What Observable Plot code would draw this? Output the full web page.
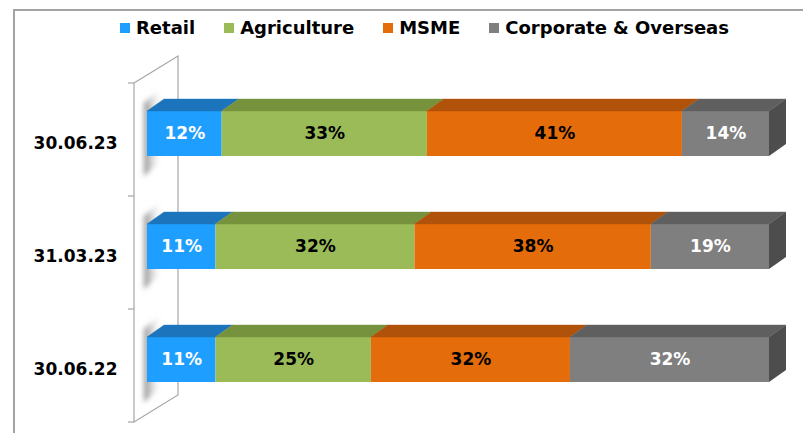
<!DOCTYPE html>
<html><head><meta charset="utf-8">
<script src="https://cdn.jsdelivr.net/npm/d3@7"></script>
<script src="https://cdn.jsdelivr.net/npm/@observablehq/plot@0.6"></script>
<style>
html,body{margin:0;padding:0;background:#fff;overflow:hidden;width:803px;height:433px}
#frame{position:absolute;left:13px;top:9px;width:900px;height:600px;border-top:2px solid #a3a3a3;border-left:2px solid #a3a3a3}
#legend{position:absolute;top:17px;left:120px;display:flex;align-items:center;font:bold 18px "DejaVu Sans";color:#000;white-space:nowrap}
.item{display:flex;align-items:center;margin-right:29px}
.sw{width:10px;height:10px;margin-right:6px}
#chart{position:absolute;left:0;top:45px}
</style></head><body>
<div id="frame"></div><div id="legend"></div><div id="chart"></div>
<script>
const dates = ["30.06.23", "31.03.23", "30.06.22"];
const segments = ["Retail", "Agriculture", "MSME", "Corporate & Overseas"];
const retail = [12, 11, 11];
const agriculture = [33, 32, 25];
const msme = [41, 38, 32];
const corporate = [14, 19, 32];

const frontColors = ["#1e9eff", "#9bbb59", "#e46c0a", "#7f7f7f"];
const topColors = ["#1c75bc", "#77923c", "#b05209", "#5f5f5f"];
const labelColors = ["#ffffff", "#000000", "#000000", "#ffffff"];
const sideColor = "#4d4d4d";
const DX = 17, DY = 12;

const seriesValues = [retail, agriculture, msme, corporate];
const rows = [];
dates.forEach((date, i) => {
  let acc = 0;
  seriesValues.forEach((vals, k) => {
    const v = vals[i];
    rows.push({date, cat: segments[k], k, value: v, x1: acc, x2: acc + v, mid: acc + v / 2, last: k === segments.length - 1});
    acc += v;
  });
});

// legend
const legend = document.getElementById("legend");
segments.forEach((s, k) => {
  const it = document.createElement("div"); it.className = "item";
  const sw = document.createElement("span"); sw.className = "sw"; sw.style.background = frontColors[k];
  const tx = document.createElement("span"); tx.textContent = s;
  it.append(sw, tx); legend.append(it);
});

function bandInfo(y) {
  const bw = typeof y.bandwidth === "function" ? y.bandwidth() : y.bandwidth;
  const st = typeof y.step === "function" ? y.step() : y.step;
  return {bw, st};
}

function wallMark(index, scales) {
  const {x, y} = scales;
  const g = d3.create("svg:g");
  const {bw, st} = bandInfo(y);
  const x0 = x(0);
  const xL = x0 - 13, xB = x0 + 31, rise = 27;
  const yT = y(dates[0]) - 28, yBot = yT + st * dates.length;
  const defs = g.append("defs");
  const grad = defs.append("linearGradient").attr("id", "shgrad").attr("x1", 0).attr("x2", 1).attr("y1", 0).attr("y2", 0);
  grad.append("stop").attr("offset", "0%").attr("stop-color", "#6a6a6a").attr("stop-opacity", 0.8);
  grad.append("stop").attr("offset", "100%").attr("stop-color", "#d0d0d0").attr("stop-opacity", 0);
  defs.append("filter").attr("id", "shblur").attr("x", "-50%").attr("y", "-50%").attr("width", "200%").attr("height", "200%")
    .append("feGaussianBlur").attr("stdDeviation", 2.8);
  g.append("path")
    .attr("d", `M${xL},${yT}L${xB},${yT - rise}L${xB},${yBot - rise}L${xL},${yBot}Z`)
    .attr("fill", "#fff").attr("stroke", "#a6a6a6").attr("stroke-width", 1.2);
  for (let k = 0; k <= dates.length; k++) {
    const yy = yT + k * st;
    g.append("line").attr("x1", xL - 6).attr("x2", xL).attr("y1", yy).attr("y2", yy)
      .attr("stroke", "#a6a6a6").attr("stroke-width", 1.2);
  }
  for (const d of dates) {
    const t = y(d), b = t + bw;
    g.append("path")
      .attr("d", `M${x0 - 3},${t - 8}L${x0 + 13},${t - 22}L${x0 + 13},${b + 6}L${x0 - 3},${b + 20}Z`)
      .attr("fill", "url(#shgrad)").attr("filter", "url(#shblur)");
  }
  return g.node();
}

function facesMark(index, scales) {
  const {x, y} = scales;
  const g = d3.create("svg:g");
  const {bw} = bandInfo(y);
  for (const r of rows) {
    const a = x(r.x1), b = x(r.x2), t = y(r.date);
    g.append("path")
      .attr("d", `M${a},${t}L${a + DX},${t - DY}L${b + DX},${t - DY}L${b},${t}Z`)
      .attr("fill", topColors[r.k]).attr("stroke", topColors[r.k]).attr("stroke-width", 0.4);
    if (r.last) {
      g.append("path")
        .attr("d", `M${b},${t}L${b + DX},${t - DY}L${b + DX},${t + bw - DY}L${b},${t + bw}Z`)
        .attr("fill", sideColor);
    }
  }
  return g.node();
}

const chart = Plot.plot({
  width: 803,
  height: 388,
  marginLeft: 147,
  marginRight: 34,
  marginTop: 66,
  marginBottom: 51,
  style: {fontFamily: "DejaVu Sans", fontSize: "17px", fontWeight: "bold", background: "transparent", overflow: "visible"},
  x: {domain: [0, 100], axis: null},
  y: {domain: dates, paddingInner: 0.602, paddingOuter: 0, axis: null},
  color: {domain: segments, range: frontColors},
  marks: [
    wallMark,
    Plot.barX(rows, {x1: "x1", x2: "x2", y: "date", fill: "cat"}),
    facesMark,
    Plot.text(dates, {y: d => d, text: d => d, frameAnchor: "left", textAnchor: "end", dx: -30, dy: 9.5, fill: "#000", fontSize: 17, fontWeight: "bold"}),
    Plot.text(rows, {x: "mid", y: "date", text: d => d.value + "%", fill: d => labelColors[d.k], fontSize: 17, fontWeight: "bold"})
  ]
});
document.getElementById("chart").append(chart);
</script>
</body></html>
